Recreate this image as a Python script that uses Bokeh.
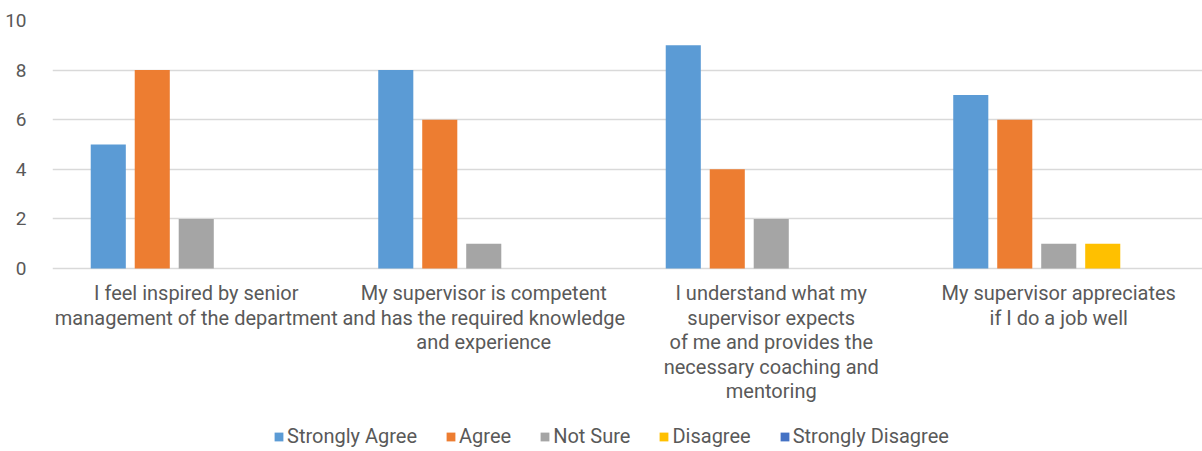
from bokeh.plotting import figure
from bokeh.models import ColumnDataSource, FactorRange, Legend, LegendItem, Range1d
from bokeh.core.properties import value
from bokeh.transform import dodge
from bokeh.embed import file_html
from bokeh.resources import INLINE

categories = [
    "I feel inspired by senior\nmanagement of the department",
    "My supervisor is competent\nand has the required knowledge\nand experience",
    "I understand what my\nsupervisor expects\nof me and provides the\nnecessary coaching and\nmentoring",
    "My supervisor appreciates\nif I do a job well",
]
series_names = ["Strongly Agree", "Agree", "Not Sure", "Disagree", "Strongly Disagree"]
strongly_agree = [5, 8, 9, 7]
agree = [8, 6, 4, 6]
not_sure = [2, 1, 2, 1]
disagree = [0, 0, 0, 1]
strongly_disagree = [0, 0, 0, 0]
y_ticks = [0, 2, 4, 6, 8, 10]

colors = ["#5B9BD5", "#ED7D31", "#A5A5A5", "#FFC000", "#4472C4"]
values = [strongly_agree, agree, not_sure, disagree, strongly_disagree]

src = ColumnDataSource(dict(cat=categories, **{f"s{i}": v for i, v in enumerate(values)}))

FONT = "Roboto"
TXT = "#595959"

# frame spans the full height below the top border; the region below y=0 holds
# the category labels and the legend
p = figure(frame_width=1150, frame_height=431, x_range=FactorRange(*categories, range_padding=0),
           y_range=Range1d(-7.38, 10), output_backend="svg", toolbar_location=None,
           min_border_left=52, min_border_right=0, min_border_top=20, min_border_bottom=0)
p.outline_line_color = None
p.xaxis.visible = False

offsets = [-0.306, -0.153, 0.0, 0.153, 0.306]
items = []
for i, (name, col) in enumerate(zip(series_names, colors)):
    r = p.vbar(x=dodge("cat", offsets[i], range=p.x_range), top=f"s{i}", width=0.122,
               source=src, fill_color=col, line_color=None)
    items.append(LegendItem(label=name, renderers=[r]))

legend = Legend(items=items, orientation="horizontal", location=(221, 3),
                label_text_font=FONT, label_text_font_size="20px", label_text_color=TXT,
                glyph_width=11, glyph_height=11, label_standoff=3, spacing=28,
                border_line_color=None, background_fill_alpha=0, margin=0, padding=4)
p.add_layout(legend, "center")

# category labels, one text per line, centred under each group
line_step = 0.99
lx, ly, lt = [], [], []
for i, cat in enumerate(categories):
    for j, line in enumerate(cat.split("\n")):
        lx.append(i + 0.5)
        ly.append(-1.0 - j * line_step)
        lt.append(line)
p.text(x=lx, y=ly, text=lt, text_align="center", text_baseline="middle",
       text_font=value(FONT), text_font_size="20px", text_color=TXT)

p.yaxis.ticker = y_ticks
p.yaxis.axis_line_color = None
p.yaxis.major_tick_line_color = None
p.yaxis.minor_tick_line_color = None
p.yaxis.major_label_text_font = FONT
p.yaxis.major_label_text_font_size = "19px"
p.yaxis.major_label_text_color = TXT
p.yaxis.major_label_standoff = 20

p.xgrid.grid_line_color = None
p.ygrid.grid_line_color = "#D9D9D9"
p.ygrid.grid_line_width = 1.5

open("out.html", "w").write(file_html(p, INLINE))
